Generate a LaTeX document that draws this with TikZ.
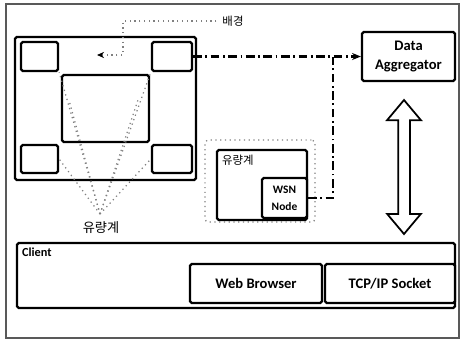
\documentclass[tikz,border=0pt]{standalone}
\usepackage{fontspec}
\setmainfont{Carlito}
\newfontfamily\kr{Noto Sans CJK KR}
\usetikzlibrary{arrows.meta,shapes.arrows,positioning}

\begin{document}
\begin{tikzpicture}[x=0.02cm,y=-0.02cm,
    box/.style={draw,line width=1.3pt,rounded corners=1pt,fill=white,inner sep=0pt},
    dots/.style={draw=gray,dotted,line width=0.7pt},
    link/.style={line width=1.3pt,dash pattern=on 5pt off 2pt on 1pt off 2pt},
    lbl/.style={font=\fontsize{8.3}{11}\selectfont\bfseries,align=center}]

        \useasboundingbox (0,0) rectangle (462,343);
        \draw[line width=0.6pt,gray!70!black] (6,4) rectangle (459,338);

        %%% screen %%%
        \node[box,minimum width=3.62cm,minimum height=2.86cm] (screen) at (105.5,108.5) {};
        \node[box,minimum width=0.74cm,minimum height=0.58cm] (tl) at (39.5,56.5) {};
        \node[box,minimum width=0.80cm,minimum height=0.58cm] (tr) at (172,56.5) {};
        \node[box,minimum width=0.74cm,minimum height=0.56cm] (bl) at (39.5,159) {};
        \node[box,minimum width=0.80cm,minimum height=0.56cm] (br) at (172,159) {};
        \node[box,minimum width=1.74cm,minimum height=1.34cm] (panel) at (105.5,108.5) {};

        %%% flow meters %%%
        \coordinate (apex) at (100,214);
        \node[font=\kr\fontsize{7.5}{8}\selectfont] (meters) at (101,228) {유량계};
        \coordinate (pl) at (69,100);
        \coordinate (pr) at (139,97);
        \foreach \t in {tl.south east, tr.south west, pl, pr, bl.east, br.west}{
          \draw[dots] (apex) -- (\t);
        }

        %%% background %%%
        \node[font=\kr\fontsize{6.5}{7}\selectfont] (bg) at (233,21) {배경};
        \coordinate (bgtip) at (97,55);
        \draw[dots,-{Stealth[length=4pt,width=3.5pt,color=black]}] (bg.west) -- (123,21) |- (bgtip);

        %%% aggregator %%%
        \node[box,lbl,minimum width=1.86cm,minimum height=0.98cm] (agg) at (408.5,56.5) {Data\\Aggregator};
        \draw[link,-{Stealth[length=5pt,width=4pt]}] (tr.east) -- (agg.west);

        %%% meter box %%%
        \node[dots,rounded corners=2pt,minimum width=2.2cm,minimum height=1.64cm] (zone) at (260,181) {};
        \node[box,minimum width=1.8cm,minimum height=1.4cm] (meter) at (262,185) {};
        \node[font=\kr\fontsize{6.5}{7}\selectfont,anchor=north west] (mlabel) at (meter.north west) {유량계};
        \node[box,font=\fontsize{6.5}{9.5}\selectfont\bfseries,align=center,minimum width=0.9cm,minimum height=0.8cm] (wsn) at (284.5,198) {WSN\\Node};
        \coordinate (join) at (333,56.5);
        \draw[link] (wsn.east) -| (join);

        %%% up/down %%%
        \node[double arrow,draw,line width=1pt,fill=white,rotate=90,inner xsep=0pt,inner ysep=0.1cm,
              minimum height=2.68cm,
              double arrow head extend=0.22cm,double arrow tip angle=80] (updown) at (404,167) {};

        %%% client %%%
        \node[box,minimum width=8.76cm,minimum height=1.3cm] (client) at (236,275.5) {};
        \node[font=\fontsize{7}{8}\selectfont\bfseries,anchor=north west] (clabel) at (client.north west) {Client};
        \node[box,lbl,minimum width=2.64cm,minimum height=0.78cm] (web) at (256,283.5) {Web Browser};
        \node[box,lbl,minimum width=2.6cm,minimum height=0.78cm] (tcp) at (390,283.5) {TCP/IP Socket};

\end{tikzpicture}
\end{document}
